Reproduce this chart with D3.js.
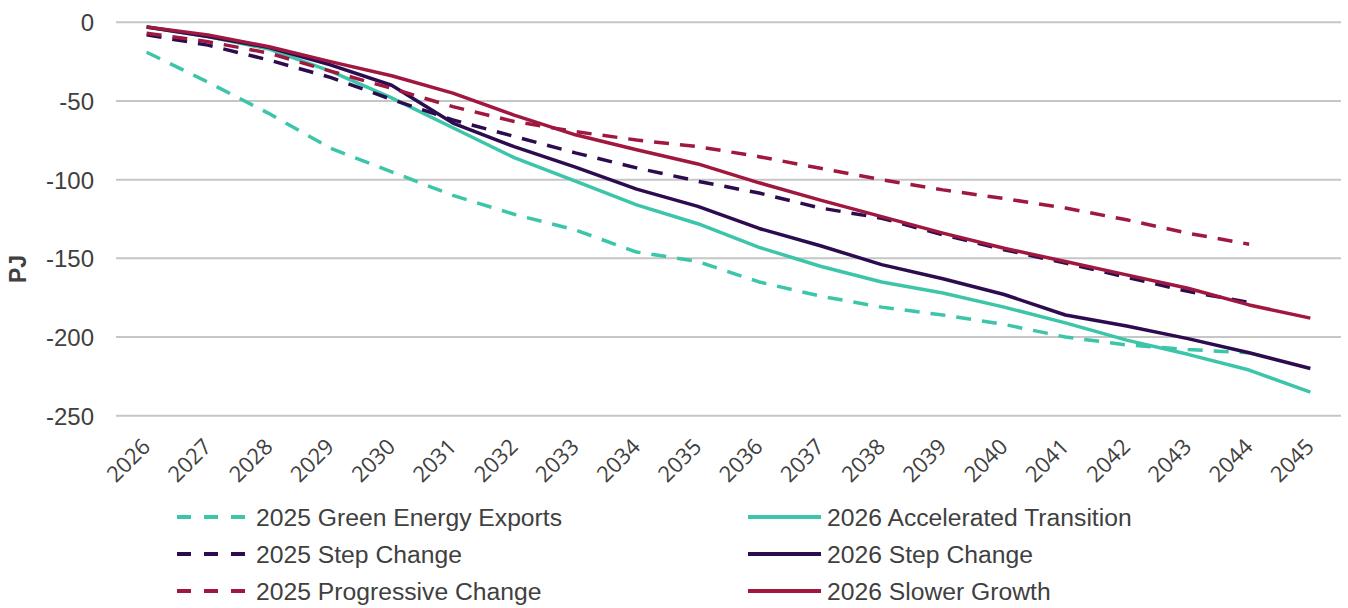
<!DOCTYPE html>
<html>
<head>
<meta charset="utf-8">
<script src="https://cdn.jsdelivr.net/npm/d3@7/dist/d3.min.js"></script>
<style>
  html, body { margin: 0; padding: 0; background: #ffffff; }
  svg { display: block; }
</style>
</head>
<body>
<svg id="chart" width="1348" height="608"></svg>
<script>
// Years on the horizontal axis
const years = ["2026","2027","2028","2029","2030","2031","2032","2033","2034","2035",
               "2036","2037","2038","2039","2040","2041","2042","2043","2044","2045"];

// Y axis ticks (PJ)
const yTicks = [0, -50, -100, -150, -200, -250];

// 2025 scenarios (run to 2044)
const green2025 = [-19, -38, -58, -80, -95, -110, -122, -132, -146, -152,
                   -165, -174, -181, -186, -192, -200, -205, -208, -210];
const step2025 = [-8, -14.5, -24, -35, -49, -62, -72.5, -83, -92.5, -101,
                  -108.5, -118, -124.5, -135, -144.5, -153, -162, -171, -178];
const progressive2025 = [-7, -12.3, -19.6, -31, -42, -53.6, -63, -69.5, -74.8, -79,
                         -85.4, -92.8, -100, -106.5, -112, -118, -125.5, -134, -141];

// 2026 scenarios (run to 2045)
const accel2026 = [-3, -9, -17, -31, -48, -67, -86, -101, -116, -128,
                   -143, -155, -165, -172, -181, -191, -202, -211, -221, -235];
const step2026 = [-3, -9, -16, -27, -40, -64, -79, -92, -106, -117,
                  -131, -142, -154, -163, -173, -186, -193, -201, -210, -220];
const slower2026 = [-3, -8, -15.5, -25, -34, -45, -59, -71.5, -81, -90,
                    -102, -113, -123.5, -134, -143.6, -152, -160.5, -169, -179.6, -188];

const TEAL = "#3cc5a8", PURPLE = "#2c0b4f", CRIMSON = "#a0183f";

const series = [
  { name: "2025 Green Energy Exports",  values: green2025,       color: TEAL,    dashed: true  },
  { name: "2026 Accelerated Transition", values: accel2026,      color: TEAL,    dashed: false },
  { name: "2025 Step Change",           values: step2025,        color: PURPLE,  dashed: true  },
  { name: "2026 Step Change",           values: step2026,        color: PURPLE,  dashed: false },
  { name: "2025 Progressive Change",    values: progressive2025, color: CRIMSON, dashed: true  },
  { name: "2026 Slower Growth",         values: slower2026,      color: CRIMSON, dashed: false }
];

const svg = d3.select("#chart");
const TEXT = "#404040";
const DASH = "15,11";

const x = d3.scalePoint().domain(years).range([116, 1341]).padding(0.5);
const y = d3.scaleLinear().domain([-250, 0]).range([415.7, 22.3]);

// Horizontal gridlines
svg.append("g")
  .selectAll("line")
  .data(yTicks)
  .join("line")
  .attr("x1", 116).attr("x2", 1341)
  .attr("y1", d => y(d)).attr("y2", d => y(d))
  .attr("stroke", "#c6c6c6")
  .attr("stroke-width", 2);

// Y axis labels
const yAxis = d3.axisLeft(y).tickValues(yTicks).tickSize(0).tickPadding(0)
  .tickFormat(d => String(d));
const gy = svg.append("g").attr("transform", "translate(94,0)").call(yAxis);
gy.select(".domain").remove();
gy.selectAll("text")
  .attr("fill", TEXT)
  .attr("font-family", "'Liberation Sans', Arial, sans-serif")
  .attr("font-size", 24)
  .attr("dy", "0.35em");

// X axis labels, rotated
const xAxis = d3.axisBottom(x).tickSize(0).tickPadding(0);
const gx = svg.append("g").call(xAxis);
gx.select(".domain").remove();
gx.selectAll(".tick").attr("transform", null);
gx.selectAll(".tick text")
  .attr("fill", TEXT)
  .attr("font-family", "'Open Sans', sans-serif")
  .attr("font-size", 22)
  .attr("text-anchor", "end")
  .attr("x", null).attr("y", null).attr("dy", null)
  .attr("transform", d => `translate(${x(d) + 5},448) rotate(-45)`);

// Axis title
svg.append("text")
  .attr("transform", "translate(26,269) rotate(-90)")
  .attr("text-anchor", "middle")
  .attr("fill", TEXT)
  .attr("font-family", "'Liberation Sans', Arial, sans-serif")
  .attr("font-weight", "bold")
  .attr("font-size", 23)
  .text("PJ");

// Series lines
const line = d3.line()
  .x((d, i) => x(years[i]))
  .y(d => y(d));

svg.append("g")
  .selectAll("path")
  .data(series)
  .join("path")
  .attr("d", s => line(s.values))
  .attr("fill", "none")
  .attr("stroke", s => s.color)
  .attr("stroke-width", 3.5)
  .attr("stroke-linejoin", "round")
  .attr("stroke-dasharray", s => s.dashed ? DASH : null);

// Legend: two columns, three rows
const legendCols = [177, 748];
const legendRows = [517, 554, 591];
const lg = svg.append("g")
  .selectAll("g")
  .data(series)
  .join("g")
  .attr("transform", (s, i) => `translate(${legendCols[i % 2]},${legendRows[Math.floor(i / 2)]})`);

lg.append("line")
  .attr("x1", 0).attr("x2", 73)
  .attr("y1", 0).attr("y2", 0)
  .attr("stroke", s => s.color)
  .attr("stroke-width", 4)
  .attr("stroke-dasharray", s => s.dashed ? "14,13" : null);

lg.append("text")
  .attr("x", 79)
  .attr("y", 9)
  .attr("fill", TEXT)
  .attr("font-family", "'Liberation Sans', Arial, sans-serif")
  .attr("font-size", 24.7)
  .text(s => s.name);
</script>
</body>
</html>
